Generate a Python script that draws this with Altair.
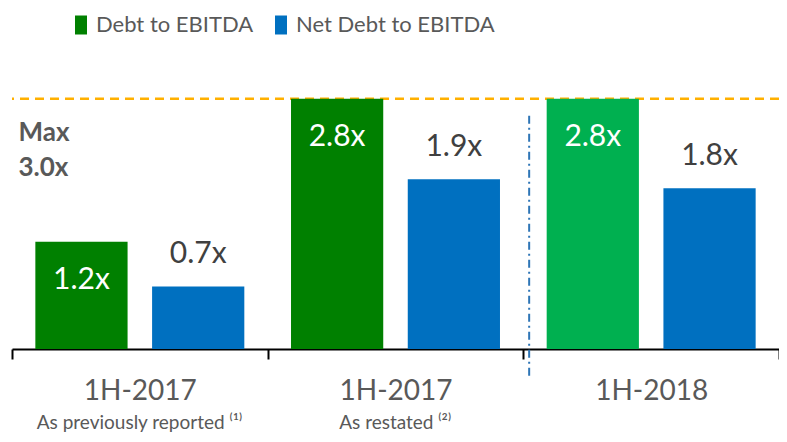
import altair as alt
import pandas as pd

# ---- data ----
groups = ["1H-2017 (reported)", "1H-2017 (restated)", "1H-2018"]
subtitles = ["As previously reported \u207d\u00b9\u207e", "As restated \u207d\u00b2\u207e", ""]
series = ["Debt to EBITDA", "Net Debt to EBITDA"]
debt_to_ebitda = [1.2, 2.8, 2.8]
net_debt_to_ebitda = [0.7, 1.9, 1.8]
highlight_group = "1H-2018"
max_text = ["Max", "3.0x"]

rows = []
for i, (g, d, n) in enumerate(zip(groups, debt_to_ebitda, net_debt_to_ebitda)):
    rows.append({"group": g, "series": series[0], "value": d, "label": f"{d:.1f}x",
                 "highlight": g == highlight_group, "base": 0, "subtitle": subtitles[i],
                 "first": i == 0})
    rows.append({"group": g, "series": series[1], "value": n, "label": f"{n:.1f}x",
                 "highlight": False, "base": 0, "subtitle": subtitles[i], "first": False})
df = pd.DataFrame(rows)

FONT = "Lato"
GREY = "#595959"

x_enc = alt.X(
    "group:N", sort=groups,
    scale=alt.Scale(domain=groups, paddingInner=0, paddingOuter=0),
    axis=alt.Axis(
        title=None, labelAngle=0,
        labelExpr="indexof(datum.label,'(')>0 ? trim(slice(datum.label,0,indexof(datum.label,'('))) : datum.label",
        tickBand="extent", domainColor="black", domainWidth=2,
        tickColor="black", tickWidth=2, tickSize=10,
        labelFontSize=28, labelColor=GREY, labelFont=FONT, labelPadding=18,
    ),
)
xoff = alt.XOffset("series:N", sort=series,
                   scale=alt.Scale(domain=series, paddingInner=0.21, paddingOuter=0.2))
y_scale = alt.Scale(domain=[0, 3.2], nice=False, zero=True)
y_enc = alt.Y("value:Q", scale=y_scale, axis=None)
y_base = alt.Y("base:Q", scale=y_scale, axis=None)

base = alt.Chart(df)
debt_rows = base.transform_filter(alt.datum.series == series[0])

bars = base.mark_bar().encode(
    x=x_enc, xOffset=xoff, y=y_enc,
    color=alt.condition(
        "datum.highlight",
        alt.value("#00B050"),
        alt.Color("series:N", sort=series,
                  scale=alt.Scale(domain=series, range=["#008000", "#0070C0"]),
                  legend=alt.Legend(
                      title=None, orient="none", legendX=58, legendY=-49,
                      direction="horizontal",
                      symbolType="M-0.63,-1H0.63V1H-0.63Z", symbolSize=361,
                      symbolStrokeWidth=0, symbolOpacity=1,
                      labelFontSize=22, labelFont=FONT, labelColor=GREY,
                      labelOffset=4, columnPadding=16, padding=0, labelLimit=400,
                  )),
    ),
)

inside = debt_rows.mark_text(
    color="white", fontSize=30, font=FONT, baseline="middle", dy=38
).encode(x=x_enc, xOffset=xoff, y=y_enc, text="label:N")

above = base.transform_filter(alt.datum.series == series[1]).mark_text(
    color="#404040", fontSize=30, font=FONT, baseline="middle", dy=-32
).encode(x=x_enc, xOffset=xoff, y=y_enc, text="label:N")

# dashed "max" line at the level of the highest bar
max_rule = base.transform_filter("datum.highlight").mark_rule(
    color="#FFB000", strokeDash=[9, 6], strokeWidth=2.5
).encode(y=y_enc)

# dash-dot divider before the 1H-2018 group
divider = base.transform_filter("datum.highlight").mark_rule(
    color="#2E75B6", strokeDash=[8, 4, 2, 4], strokeWidth=2,
    xOffset=-122, yOffset=17, y2Offset=28
).encode(x=x_enc, y=y_enc, y2=alt.Y2("base:Q"))

# "Max / 3.0x" note
max1 = debt_rows.transform_filter("datum.first").transform_calculate(
    note=f"'{max_text[0]}'"
).mark_text(
    fontSize=26, fontWeight="bold", font=FONT, color=GREY, align="left",
    baseline="top", dx=-63, dy=-229
).encode(x=x_enc, xOffset=xoff, y=y_base, text="note:N")
max2 = debt_rows.transform_filter("datum.first").transform_calculate(
    note=f"'{max_text[1]}'"
).mark_text(
    fontSize=26, fontWeight="bold", font=FONT, color=GREY, align="left",
    baseline="top", dx=-63, dy=-194
).encode(x=x_enc, xOffset=xoff, y=y_base, text="note:N")

# sub-captions under the category labels
subs = debt_rows.transform_filter("datum.subtitle != ''").mark_text(
    fontSize=19, font=FONT, color=GREY, baseline="alphabetic", dx=58, dy=80
).encode(x=x_enc, xOffset=xoff, y=y_base, text="subtitle:N")

chart = alt.layer(max_rule, bars, inside, above, divider, max1, max2, subs).properties(
    width=767, height=286,
    autosize=alt.AutoSizeParams(type="none"),
    padding={"left": 4, "top": 55, "right": 0, "bottom": 85},
).configure_view(stroke=None).configure_axis(grid=False)

chart.save("out.html", embed_options={"renderer": "svg", "actions": False})
